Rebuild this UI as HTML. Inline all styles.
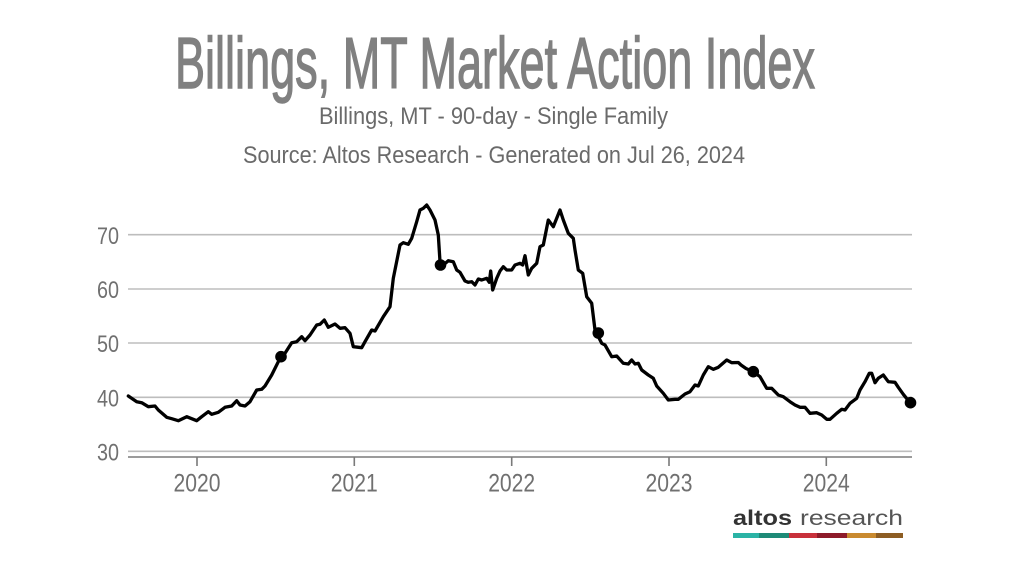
<!DOCTYPE html>
<html>
<head>
<meta charset="utf-8">
<style>
  html, body { margin: 0; padding: 0; background: #ffffff; }
  body { width: 1022px; height: 576px; overflow: hidden; }
  svg { display: block; }
  text { font-family: "Liberation Sans Narrow", "Liberation Sans", "DejaVu Sans", sans-serif; }
</style>
</head>
<body>
<svg width="1022" height="576" viewBox="0 0 1022 576" xmlns="http://www.w3.org/2000/svg">
  <rect width="1022" height="576" fill="#ffffff"/>

  <!-- Titles -->
  <text x="175" y="88" font-size="72" fill="#808080" stroke="#808080" stroke-width="1.4" textLength="640" lengthAdjust="spacingAndGlyphs">Billings, MT Market Action Index</text>
  <text x="319" y="124" font-size="24" fill="#6a6a6a" textLength="349" lengthAdjust="spacingAndGlyphs">Billings, MT - 90-day - Single Family</text>
  <text x="243" y="163" font-size="24" fill="#6a6a6a" textLength="502" lengthAdjust="spacingAndGlyphs">Source: Altos Research - Generated on Jul 26, 2024</text>

  <!-- Gridlines -->
  <g stroke="#bdbdbd" stroke-width="1.6">
    <line x1="128" y1="234.7" x2="912" y2="234.7"/>
    <line x1="128" y1="289" x2="912" y2="289"/>
    <line x1="128" y1="343" x2="912" y2="343"/>
    <line x1="128" y1="397.3" x2="912" y2="397.3"/>
    <line x1="128" y1="451.3" x2="912" y2="451.3"/>
  </g>

  <!-- X axis -->
  <line x1="128" y1="457" x2="912" y2="457" stroke="#7a7a7a" stroke-width="1.6"/>
  <g stroke="#7a7a7a" stroke-width="1.6">
    <line x1="197" y1="457" x2="197" y2="466"/>
    <line x1="354.3" y1="457" x2="354.3" y2="466"/>
    <line x1="511.7" y1="457" x2="511.7" y2="466"/>
    <line x1="669" y1="457" x2="669" y2="466"/>
    <line x1="826.3" y1="457" x2="826.3" y2="466"/>
  </g>

  <!-- Y labels -->
  <g font-size="24" fill="#707070" text-anchor="end">
    <text x="119" y="244" textLength="22" lengthAdjust="spacingAndGlyphs">70</text>
    <text x="119" y="298" textLength="22" lengthAdjust="spacingAndGlyphs">60</text>
    <text x="119" y="352" textLength="22" lengthAdjust="spacingAndGlyphs">50</text>
    <text x="119" y="406.5" textLength="22" lengthAdjust="spacingAndGlyphs">40</text>
    <text x="119" y="460.5" textLength="22" lengthAdjust="spacingAndGlyphs">30</text>
  </g>

  <!-- X labels -->
  <g font-size="25" fill="#707070">
    <text x="173.5" y="491.5" textLength="47" lengthAdjust="spacingAndGlyphs">2020</text>
    <text x="330.8" y="491.5" textLength="47" lengthAdjust="spacingAndGlyphs">2021</text>
    <text x="488.2" y="491.5" textLength="47" lengthAdjust="spacingAndGlyphs">2022</text>
    <text x="645.5" y="491.5" textLength="47" lengthAdjust="spacingAndGlyphs">2023</text>
    <text x="802.8" y="491.5" textLength="47" lengthAdjust="spacingAndGlyphs">2024</text>
  </g>

  <!-- Data line -->
  <polyline fill="none" stroke="#000000" stroke-width="3.3" stroke-linejoin="round" stroke-linecap="round"
    points="128.3,396 136.7,401.7 141.7,402.7 148.3,406.7 155,406 158.3,410 166.7,417.3 171.7,418.7 178.3,420.7 186.7,416.7 196.7,420.7 201.7,416.7 208.3,411.7 211.7,414.3 218.3,412.3 225,407.3 231.7,406 236.7,400.7 240,405 245,406 250,401.7 256.7,390 261.7,389.3 265,386 271.7,375 280,358.3 285,353.3 291.7,342.7 296.7,341.7 301.7,336.7 305,340.7 310,335 316.7,325 320,324.3 324.3,320 328.3,327.3 335,324 340,328.3 345,327.7 350,333.3 353.3,346.7 361.7,347.7 365,341.7 371.7,330 375,331 383.3,316.7 390,306.7 393.3,278.3 400,245 403.3,242.7 408.3,244.3 411.7,238.3 416.7,221.7 420,210 423.3,208.3 426.7,205 430,210 435,220 438.3,235 440,261.7 443.3,265 448.3,260.7 453.3,261.7 456.7,270 460,272.3 465,281 468.3,282.3 471.7,281.7 475,285 478.3,279 481.7,280 486.7,278.3 489.3,282.3 490.7,271 492.7,290 496.7,278.3 500,271 503.3,266.7 506.7,270 511.7,270 515,265 520,263.3 522.7,265 525,255.7 528.3,275 531.7,268.3 536.7,263.3 540,246.7 543.3,245 548.3,220 553.3,226.7 560,210 563.3,220 568.3,233.3 573.3,238.3 575,250 578.3,270 582.7,273.3 586.7,296.7 591.7,303.3 595,330 601.7,343.3 605,345 611.7,356.7 616.7,356 623.3,363.3 628.3,364 631.7,360 635,364 638.3,363.3 641.7,370 648.3,375 653.3,378.3 656.7,386 663.3,393.3 668.3,400 675,399.3 678.3,399.3 685,394 690,391.7 695,385 698.3,386 703.3,375 708.3,366.7 713.3,369.3 718.3,367.3 726.7,360 731.7,362.7 738.3,362.5 741,365 746,368.5 753.3,371.7 760,376.7 766.7,388.3 771.7,388.3 778.3,395 783.3,396.7 790,401.7 795,405 800,407.3 805,407.3 810,413.3 816.7,412.7 821.7,415 826.7,419.3 830,419.3 836.7,413.3 841.7,409.3 845,410 850,403.3 856.7,398.3 860,390 865,381.7 869.3,373.3 871.7,373.3 875,382.7 878.3,378.3 883.3,375 888.3,381.7 895,382.3 898.3,387.3 903.3,394.3 910,402.7"/>

  <!-- Markers -->
  <g fill="#000000">
    <circle cx="281" cy="356.7" r="5.8"/>
    <circle cx="440.5" cy="265" r="5.8"/>
    <circle cx="598.3" cy="333" r="5.8"/>
    <circle cx="753.3" cy="371.7" r="5.8"/>
    <circle cx="910.5" cy="402.7" r="5.8"/>
  </g>

  <!-- Logo -->
  <text x="733" y="525" font-size="21" font-weight="bold" fill="#333333" textLength="59" lengthAdjust="spacingAndGlyphs" style="font-family:'Liberation Sans',sans-serif">altos</text>
  <text x="800" y="525" font-size="21" fill="#555555" textLength="103" lengthAdjust="spacingAndGlyphs" style="font-family:'Liberation Sans',sans-serif">research</text>
  <rect x="733" y="533" width="26" height="5" fill="#2bb3a5"/>
  <rect x="759" y="533" width="30" height="5" fill="#1e8a77"/>
  <rect x="789" y="533" width="28" height="5" fill="#c8303b"/>
  <rect x="817" y="533" width="30" height="5" fill="#8e1b2a"/>
  <rect x="847" y="533" width="29" height="5" fill="#c98a2f"/>
  <rect x="876" y="533" width="27" height="5" fill="#8d5d23"/>
</svg>
</body>
</html>
